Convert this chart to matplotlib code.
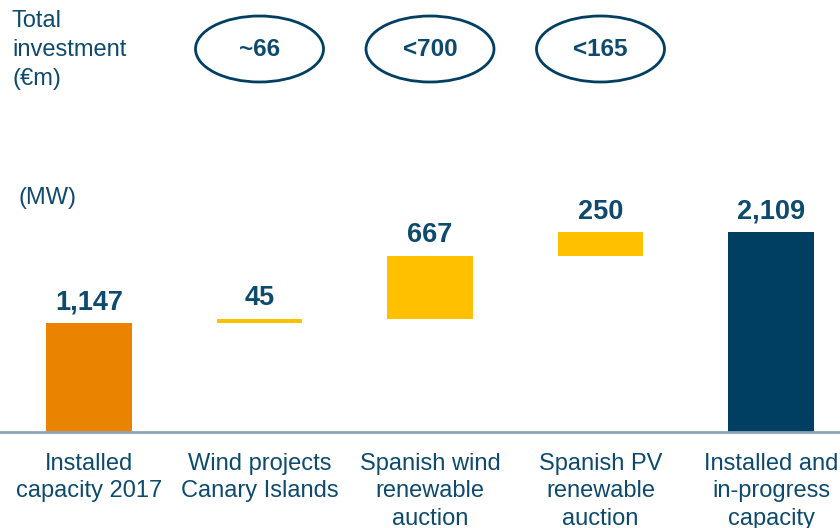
import matplotlib
matplotlib.use("Agg")
import matplotlib.pyplot as plt
from matplotlib.patches import Ellipse

plt.rcParams["font.family"] = ["Liberation Sans", "DejaVu Sans"]

# ---------- data ----------
CATEGORIES = ["Installed\ncapacity 2017", "Wind projects\nCanary Islands",
              "Spanish wind\nrenewable\nauction", "Spanish PV\nrenewable\nauction",
              "Installed and\nin-progress\ncapacity"]
STEPS = [1147, 45, 667, 250]          # MW added per step (first one is the base)
TOTAL = 2109                          # MW, final column
VALUE_LABELS = ["1,147", "45", "667", "250", "2,109"]
INVESTMENT = ["~66", "<700", "<165"]  # €m, one per growth step
INVEST_IDX = [1, 2, 3]

NAVY = "#003F62"
TEXT = "#0D4A6E"
ORANGE = "#E98300"
YELLOW = "#FFC000"
BASE_LINE = "#8DA5B8"

# ---------- waterfall geometry ----------
bottoms, heights = [], []
running = 0
for v in STEPS:
    bottoms.append(running)
    heights.append(v)
    running += v
bottoms.append(0)
heights.append(TOTAL)
colors = [ORANGE, YELLOW, YELLOW, YELLOW, NAVY]

fig = plt.figure(figsize=(8.4, 5.28), dpi=100)
base_px = 96
ax = fig.add_axes([0, base_px / 528, 1, (528 - base_px) / 528])

px_per_mw = 0.0946
step_px = 170.5
x0_px = 89
ax.set_xlim(-x0_px / step_px, (840 - x0_px) / step_px)
ax.set_ylim(0, (528 - base_px) / px_per_mw)

xs = list(range(len(CATEGORIES)))
ax.bar(xs, heights, bottom=bottoms, width=0.5, color=colors, zorder=2)

for x, b, h, lab in zip(xs, bottoms, heights, VALUE_LABELS):
    ax.annotate(lab, (x, b + h), xytext=(0, 10), textcoords="offset points",
                ha="center", va="baseline", fontsize=19.5, fontweight="bold",
                color=TEXT)

ax.set_xticks(xs)
ax.set_xticklabels(CATEGORIES, fontsize=17, color=TEXT, linespacing=1.32)
ax.tick_params(axis="x", length=0, pad=15)
ax.set_yticks([])
for side in ["top", "left", "right"]:
    ax.spines[side].set_visible(False)
ax.spines["bottom"].set_color(BASE_LINE)
ax.spines["bottom"].set_linewidth(2)

# investment ellipses above the growth steps
ell_y = (528 - 49 - base_px) / px_per_mw
ell_w = 128 / step_px
ell_h = 66 / px_per_mw
for i, lab in zip(INVEST_IDX, INVESTMENT):
    ax.add_patch(Ellipse((i, ell_y), ell_w, ell_h, facecolor="none",
                         edgecolor=NAVY, linewidth=2, clip_on=False))
    ax.text(i, ell_y, lab, ha="center", va="center", fontsize=17.5,
            fontweight="bold", color=TEXT)

fig.text(12 / 840, 1 - 10 / 528, "Total\ninvestment\n(€m)", ha="left", va="top",
         fontsize=17, color=TEXT, linespacing=1.42)
fig.text(18 / 840, 1 - 198 / 528, "(MW)", ha="left", va="center",
         fontsize=17, color=TEXT)

fig.savefig("out.png", dpi=100)
